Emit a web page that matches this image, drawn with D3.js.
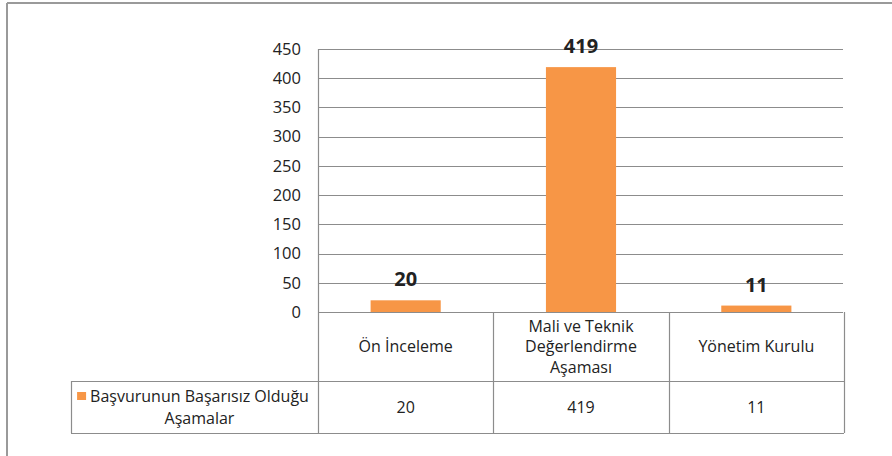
<!DOCTYPE html>
<html>
<head>
<meta charset="utf-8">
<script src="https://cdn.jsdelivr.net/npm/d3@7"></script>
<style>
  html, body { margin: 0; padding: 0; background: #fff; }
  svg { display: block; }
  text { font-family: "Open Sans", "Noto Sans", sans-serif; fill: #222; }
</style>
</head>
<body>
<svg id="chart" width="892" height="456"></svg>
<script>
const categories = [["Ön İnceleme"], ["Mali ve Teknik", "Değerlendirme", "Aşaması"], ["Yönetim Kurulu"]];
const values = [20, 419, 11];
const seriesName = ["Başvurunun Başarısız Olduğu", "Aşamalar"];
const yTicks = [0, 50, 100, 150, 200, 250, 300, 350, 400, 450];

const svg = d3.select("#chart");
const W = 892, H = 456;
const plot = { left: 318, right: 844, top: 49, bottom: 312 };
const table = { left: 71, headerBottom: 381, bottom: 433 };
const orange = "#F79646";
const gridColor = "#8c8c8c";
const fs = "16px";

// outer frame (top & left visible)
svg.append("line").attr("x1", 7).attr("x2", W).attr("y1", 3).attr("y2", 3)
  .attr("stroke", "#9a9a9a").attr("stroke-width", 2);
svg.append("line").attr("x1", 7).attr("x2", 7).attr("y1", 3).attr("y2", H)
  .attr("stroke", "#9a9a9a").attr("stroke-width", 2);

const x = d3.scaleBand().domain(d3.range(values.length))
  .range([plot.left, plot.right]).paddingInner(0).paddingOuter(0);
const y = d3.scaleLinear().domain([0, 450]).range([plot.bottom, plot.top]);

// gridlines
svg.append("g").selectAll("line").data(yTicks).join("line")
  .attr("x1", plot.left).attr("x2", plot.right - 1)
  .attr("y1", d => Math.round(y(d)) + 0.5).attr("y2", d => Math.round(y(d)) + 0.5)
  .attr("stroke", gridColor).attr("stroke-width", 1.2);

// y axis
const yAxis = d3.axisLeft(y).tickValues(yTicks).tickSize(0).tickPadding(17);
const ya = svg.append("g").attr("transform", `translate(${plot.left},0)`).call(yAxis);
ya.select(".domain").remove();
ya.selectAll("text").style("font-size", "16.5px").style("font-family", '"Open Sans", sans-serif').attr("fill", "#222");

// vertical axis line
svg.append("line").attr("x1", plot.left + 0.5).attr("x2", plot.left + 0.5)
  .attr("y1", plot.top).attr("y2", table.bottom)
  .attr("stroke", gridColor).attr("stroke-width", 1.2);

// bars
const bw = x.bandwidth() * 0.4;
svg.append("g").selectAll("rect").data(values).join("rect")
  .attr("x", (d, i) => x(i) + (x.bandwidth() - bw) / 2)
  .attr("width", bw)
  .attr("y", d => y(d))
  .attr("height", d => y(0) - y(d))
  .attr("fill", orange);

// bar labels
svg.append("g").selectAll("text").data(values).join("text")
  .attr("x", (d, i) => x(i) + x.bandwidth() / 2)
  .attr("y", d => y(d) - 14)
  .attr("text-anchor", "middle")
  .style("font-size", "20px").style("font-weight", "bold")
  .attr("fill", "#111")
  .text(d => d);

// data table
const tg = svg.append("g");
const tl = (x1, y1, x2, y2) => tg.append("line").attr("x1", x1).attr("y1", y1).attr("x2", x2).attr("y2", y2)
  .attr("stroke", gridColor).attr("stroke-width", 1.2);
tl(table.left, table.headerBottom + 0.5, plot.right, table.headerBottom + 0.5);
tl(table.left, table.bottom + 0.5, plot.right, table.bottom + 0.5);
tl(table.left + 0.5, table.headerBottom, table.left + 0.5, table.bottom);
categories.forEach((c, i) => {
  const xr = x(i) + x.bandwidth();
  tl(Math.round(xr) + 0.5, plot.bottom, Math.round(xr) + 0.5, table.bottom);
});

// header labels
const headerMid = (plot.bottom + table.headerBottom) / 2;
const lh = 20.5;
categories.forEach((lines, i) => {
  const cx = x(i) + x.bandwidth() / 2;
  const t = tg.append("text").attr("text-anchor", "middle").style("font-size", fs);
  lines.forEach((ln, j) => {
    t.append("tspan").attr("x", cx)
      .attr("y", headerMid + (j - (lines.length - 1) / 2) * lh)
      .attr("dy", "0.35em").text(ln);
  });
});

// row values
const rowMid = (table.headerBottom + table.bottom) / 2;
values.forEach((v, i) => {
  tg.append("text").attr("x", x(i) + x.bandwidth() / 2).attr("y", rowMid).attr("dy", "0.35em")
    .attr("text-anchor", "middle").style("font-size", fs).text(v);
});

// legend cell
const legCx = (table.left + plot.left) / 2 + 5;
const l1 = tg.append("text").attr("x", legCx).attr("y", rowMid - 11).attr("dy", "0.35em")
  .attr("text-anchor", "middle").style("font-size", fs).text(seriesName[0]);
tg.append("text").attr("x", legCx).attr("y", rowMid + 11).attr("dy", "0.35em")
  .attr("text-anchor", "middle").style("font-size", fs).text(seriesName[1]);
const bb = l1.node().getBBox();
tg.append("rect").attr("x", bb.x - 13).attr("y", rowMid - 15).attr("width", 9).attr("height", 8)
  .attr("fill", orange);
</script>
</body>
</html>
